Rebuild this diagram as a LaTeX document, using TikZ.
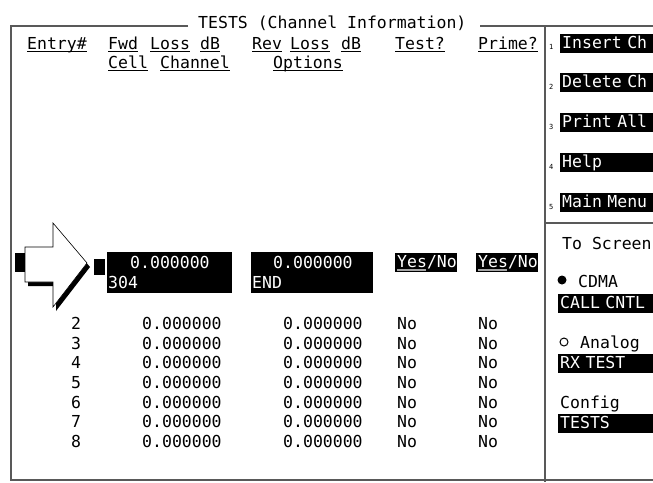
\documentclass[tikz,border=0pt]{standalone}
\usepackage{fontspec}
\setmonofont{DejaVu Sans Mono}
\usetikzlibrary{calc}

\newcommand{\screenfont}{\ttfamily\fontsize{16.5}{19.7}\selectfont}
\newcommand{\ulw}[1]{\setbox0\hbox{#1}\rlap{\rule[-3pt]{\wd0}{1.3pt}}\box0}

\tikzset{
    frame/.style={line width=2.2pt, black!65},
    txt/.style={font=\screenfont, inner sep=0pt, anchor=base west},
    keynum/.style={font=\ttfamily\fontsize{7}{8}\selectfont, inner sep=0pt, anchor=base west},
    softkey/.style={font=\screenfont, fill=black, text=white, anchor=north west,
        inner xsep=2pt, inner ysep=0pt, minimum height=19pt, text width=104pt, align=left,
        text height=11pt, text depth=2pt},
    field/.style={fill=black, inner sep=0pt, anchor=north west}
}

\begin{document}
\begin{tikzpicture}[x=1pt,y=-1pt]
                \useasboundingbox (0,0) rectangle (653,482);
                \fill[white] (0,0) rectangle (653,482);
                \clip (0,0) rectangle (653,482);

                % frame
                \coordinate (TL) at (11,26);
                \coordinate (BL) at (11,480);
                \coordinate (BR) at (653,480);
                \coordinate (TR) at (653,26);
                \coordinate (D1) at (545,26);
                \coordinate (D2) at (545,482);
                \coordinate (S1) at (545,223);
                \coordinate (S2) at (653,223);

                \draw[frame] (188,26) -- (TL) -- (BL) -- (BR);
                \draw[frame] (480,26) -- (TR);
                \draw[frame] (D1) -- (D2);
                \draw[frame] (S1) -- (S2);

                \node[txt] (title) at (198,28) {TESTS (Channel Information)};

                % column headers
                \node[txt] (H1) at (27,49) {\ulw{Entry\#}};
                \node[txt] (H2) at (108,49) {\ulw{Fwd}};
                \node[txt] (H3) at (150,49) {\ulw{Loss}};
                \node[txt] (H4) at (200,49) {\ulw{dB}};
                \node[txt] (H5) at (252,49) {\ulw{Rev}};
                \node[txt] (H6) at (290,49) {\ulw{Loss}};
                \node[txt] (H7) at (341,49) {\ulw{dB}};
                \node[txt] (H8) at (395,49) {\ulw{Test?}};
                \node[txt] (H9) at (478,49) {\ulw{Prime?}};
                \node[txt] (H10) at (108,68) {\ulw{Cell}};
                \node[txt] (H11) at (160,68) {\ulw{Channel}};
                \node[txt] (H12) at (273,68) {\ulw{Options}};

                % softkeys
                \node[keynum] (N1) at (549,49) {1};
                \node[keynum] (N2) at (549,89) {2};
                \node[keynum] (N3) at (549,129) {3};
                \node[keynum] (N4) at (549,169) {4};
                \node[keynum] (N5) at (549,209) {5};
                \node[softkey] (K1) at (560,34) {Insert Ch};
                \node[softkey] (K2) at (560,73) {Delete Ch};
                \node[softkey] (K3) at (560,113) {Print All};
                \node[softkey] (K4) at (560,153) {Help};
                \node[softkey] (K5) at (560,193) {Main Menu};

                \node[txt] (scr) at (562,249) {To Screen};
                \fill (562,280) circle (4.5);
                \node[txt] (cdma) at (578,287) {CDMA};
                \node[softkey] (call) at (558,294) {CALL CNTL};
                \draw[line width=1pt] (564,342) circle (4);
                \node[txt] (ana) at (580,348) {Analog};
                \node[softkey] (rx) at (558,354) {RX TEST};
                \node[txt] (cfg) at (560,408) {Config};
                \node[softkey] (tst) at (558,414) {TESTS};

                % selected entry
                \fill (15,253) rectangle (30,272);
                \fill (94,259) rectangle (105,275);
                \node[field, minimum width=125pt, minimum height=41pt] (FA) at (107,252) {};
                \node[txt, text=white] (FA1) at (130,268) {0.000000};
                \node[txt, text=white] (FA2) at (108,288) {304};
                \node[field, minimum width=122pt, minimum height=41pt] (FB) at (251,252) {};
                \node[txt, text=white] (FB1) at (273,268) {0.000000};
                \node[txt, text=white] (FB2) at (252,288) {END};
                \node[field, minimum width=62pt, minimum height=19pt] (FC) at (395,253) {};
                \node[txt, text=white] (FC1) at (397,267) {Yes/No};
                \draw[black!35, line width=1.3pt] ($(FC1.base west)+(0,3)$) -- ++(29,0);
                \node[field, minimum width=62pt, minimum height=19pt] (FD) at (476,253) {};
                \node[txt, text=white] (FD1) at (478,267) {Yes/No};
                \draw[black!35, line width=1.3pt] ($(FD1.base west)+(0,3)$) -- ++(29,0);

                % pointer
                \coordinate (A1) at (25,247);
                \coordinate (A2) at (53,247);
                \coordinate (A3) at (53,223);
                \coordinate (A4) at (87,263);
                \coordinate (A5) at (53,307);
                \coordinate (A6) at (53,282);
                \coordinate (A7) at (25,282);
                \fill ($(A1)+(3,4)$) -- ($(A2)+(3,4)$) -- ($(A3)+(3,4)$) -- ($(A4)+(3,4)$)
                    -- ($(A5)+(3,4)$) -- ($(A6)+(3,4)$) -- ($(A7)+(3,4)$) -- cycle;
                \filldraw[fill=white, draw=black, line width=0.6pt] (A1) -- (A2) -- (A3) -- (A4) -- (A5) -- (A6) -- (A7) -- cycle;

                % entries
                \node[txt] (E2) at (71,329) {2};
                \node[txt] (F2) at (142,329) {0.000000};
                \node[txt] (R2) at (283,329) {0.000000};
                \node[txt] (T2) at (397,329) {No};
                \node[txt] (P2) at (478,329) {No};

                \node[txt] (E3) at (71,349) {3};
                \node[txt] (F3) at (142,349) {0.000000};
                \node[txt] (R3) at (283,349) {0.000000};
                \node[txt] (T3) at (397,349) {No};
                \node[txt] (P3) at (478,349) {No};

                \node[txt] (E4) at (71,368) {4};
                \node[txt] (F4) at (142,368) {0.000000};
                \node[txt] (R4) at (283,368) {0.000000};
                \node[txt] (T4) at (397,368) {No};
                \node[txt] (P4) at (478,368) {No};

                \node[txt] (E5) at (71,388) {5};
                \node[txt] (F5) at (142,388) {0.000000};
                \node[txt] (R5) at (283,388) {0.000000};
                \node[txt] (T5) at (397,388) {No};
                \node[txt] (P5) at (478,388) {No};

                \node[txt] (E6) at (71,408) {6};
                \node[txt] (F6) at (142,408) {0.000000};
                \node[txt] (R6) at (283,408) {0.000000};
                \node[txt] (T6) at (397,408) {No};
                \node[txt] (P6) at (478,408) {No};

                \node[txt] (E7) at (71,427) {7};
                \node[txt] (F7) at (142,427) {0.000000};
                \node[txt] (R7) at (283,427) {0.000000};
                \node[txt] (T7) at (397,427) {No};
                \node[txt] (P7) at (478,427) {No};

                \node[txt] (E8) at (71,447) {8};
                \node[txt] (F8) at (142,447) {0.000000};
                \node[txt] (R8) at (283,447) {0.000000};
                \node[txt] (T8) at (397,447) {No};
                \node[txt] (P8) at (478,447) {No};
\end{tikzpicture}
\end{document}
